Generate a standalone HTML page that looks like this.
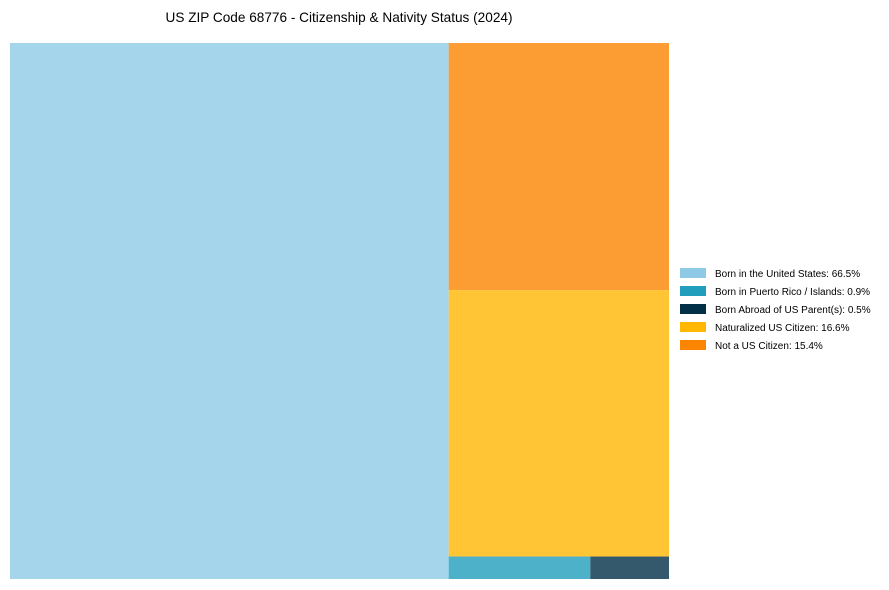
<!DOCTYPE html>
<html><head><meta charset="utf-8"><style>
html,body{margin:0;padding:0;background:#fff;}
svg{display:block;font-family:"Liberation Sans",Arial,sans-serif;}
</style></head><body>
<svg id="chart" width="889" height="590" viewBox="0 0 889 590">
<text x="339" y="22" text-anchor="middle" font-size="14" fill="#000" textLength="347" lengthAdjust="spacingAndGlyphs">US ZIP Code 68776 - Citizenship &amp; Nativity Status (2024)</text>
<g id="tiles"></g>
<g id="legend"></g>
</svg>
<script>
const categories = ["Born in the United States","Born in Puerto Rico / Islands","Born Abroad of US Parent(s)","Naturalized US Citizen","Not a US Citizen"];
const values = [66.5, 0.9, 0.5, 16.6, 15.4];
const colors = ["#8ecae6","#219ebc","#023047","#ffb703","#fb8500"];
const X0=10, Y0=43, W=659, H=536;
const ns="http://www.w3.org/2000/svg";
const tiles=document.getElementById('tiles');
function rect(i,x,y,w,h){
  const r=document.createElementNS(ns,'rect');
  r.setAttribute('x',x);r.setAttribute('y',y);r.setAttribute('width',w);r.setAttribute('height',h);
  r.setAttribute('fill',colors[i]);r.setAttribute('fill-opacity','0.8');
  
  
  tiles.appendChild(r);
}
const total=values.reduce((a,b)=>a+b,0);
const w0=W*values[0]/total;
rect(0,X0,Y0,w0,H);
const rx=X0+w0, rw=W-w0, rest=total-values[0];
let y=Y0;
const h4=H*values[4]/rest; rect(4,rx,y,rw,h4); y+=h4;
const h3=H*values[3]/rest; rect(3,rx,y,rw,h3); y+=h3;
const hs=H*(values[1]+values[2])/rest;
const w1=rw*values[1]/(values[1]+values[2]);
rect(1,rx,y,w1,hs); rect(2,rx+w1,y,rw-w1,hs);
const lg=document.getElementById('legend');
categories.forEach((c,i)=>{
  const ly=268+i*18;
  const s=document.createElementNS(ns,'rect');
  s.setAttribute('x',680);s.setAttribute('y',ly);s.setAttribute('width',26);s.setAttribute('height',10);
  s.setAttribute('fill',colors[i]);
  
  
  lg.appendChild(s);
  const t=document.createElementNS(ns,'text');
  t.setAttribute('x',715);t.setAttribute('y',ly+9);t.setAttribute('font-size','10');
  t.textContent=c+': '+values[i].toFixed(1)+'%';
  
  
  lg.appendChild(t);
});
</script>
</body></html>
